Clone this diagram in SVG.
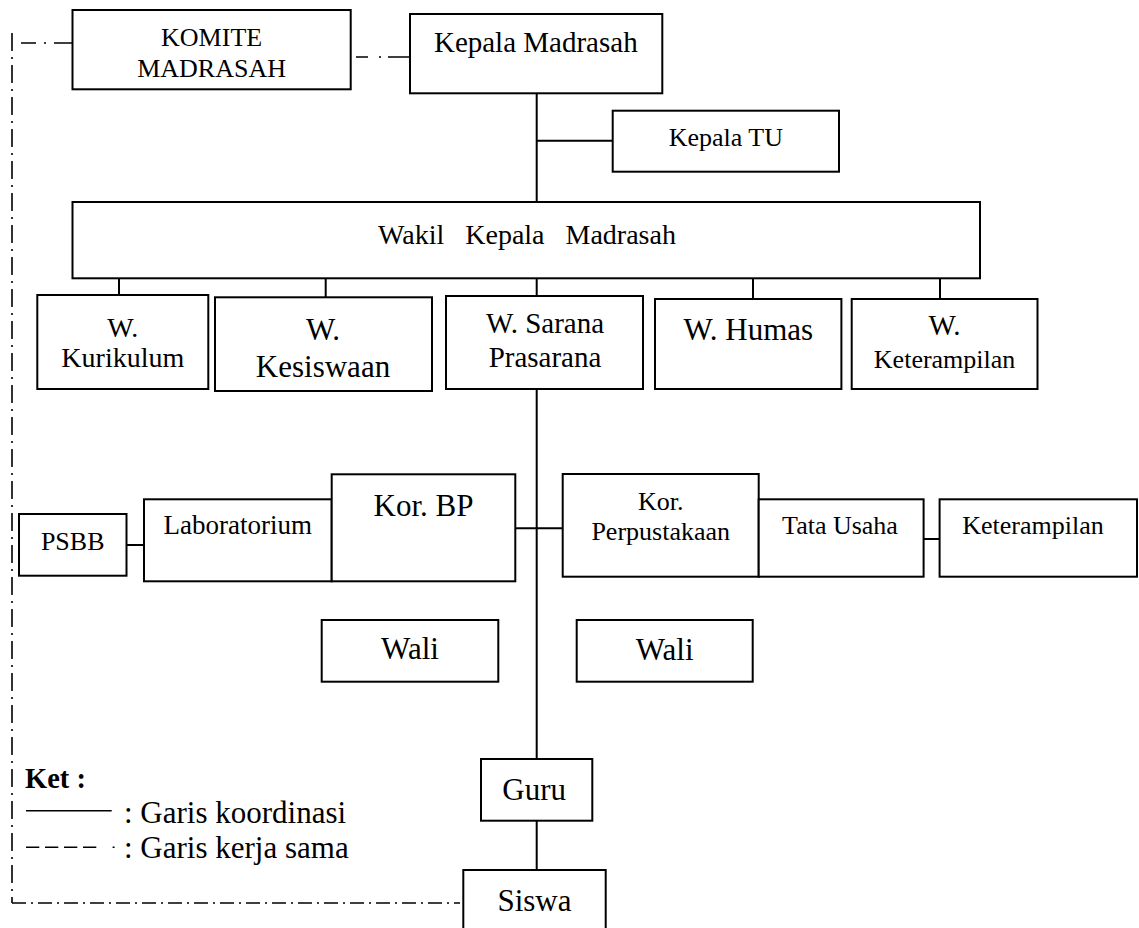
<svg xmlns="http://www.w3.org/2000/svg" width="1139" height="928" viewBox="0 0 1139 928">
<style>
.box{fill:#fff;stroke:#000;stroke-width:2}
.ln{stroke:#000;stroke-width:2;fill:none}
.dd{stroke:#000;stroke-width:1.6;fill:none}
text{font-family:"Liberation Serif","Times New Roman",serif;fill:#000;text-anchor:middle}
.s26{font-size:26px}.s27{font-size:27px}.s28{font-size:28px}.s29{font-size:29px}.s31{font-size:31px}
.ket{font-weight:bold;font-size:28.5px;text-anchor:start}
.leg{font-size:31px;text-anchor:start}
</style>
<rect width="1139" height="928" fill="#fff"/>
<g id="connectors">
  <path class="dd" d="M12,33 V903" stroke-dasharray="18 6 2 6"/>
  <path class="dd" d="M12,903 H460" stroke-dasharray="14 5 2 5"/>
  <path class="dd" d="M21,43 H72" stroke-dasharray="15 8 2 8 20"/>
  <path class="dd" d="M356,57 H410" stroke-dasharray="12 11 2 7 30"/>
  <path class="ln" d="M536.7,93 V202"/>
  <path class="ln" d="M536.7,140.7 H612.7"/>
  <path class="ln" d="M119,278 V295"/>
  <path class="ln" d="M325.7,278 V297"/>
  <path class="ln" d="M536.7,278 V296"/>
  <path class="ln" d="M753,278 V299"/>
  <path class="ln" d="M940,278 V299"/>
  <path class="ln" d="M536.7,389 V759"/>
  <path class="ln" d="M515.3,528.3 H562.7"/>
  <path class="ln" d="M126.5,545 H144"/>
  <path class="ln" d="M921,539 H939.6"/>
  <path class="ln" d="M536.7,820.7 V870"/>
</g>
<g id="komite">
  <rect class="box" x="72.5" y="10" width="278.2" height="79.3"/>
  <text class="s26" x="211.6" y="45.7">KOMITE</text>
  <text class="s26" x="211.6" y="76.7">MADRASAH</text>
</g>
<g id="kepala-madrasah">
  <rect class="box" x="410" y="14" width="252.3" height="79.3"/>
  <text class="s29" x="535.8" y="51.7">Kepala Madrasah</text>
</g>
<g id="kepala-tu">
  <rect class="box" x="612.7" y="110.7" width="226.3" height="61"/>
  <text class="s26" x="725.8" y="146">Kepala TU</text>
</g>
<g id="wakil">
  <rect class="box" x="72.5" y="202" width="907.5" height="76.3"/>
  <text class="s28" x="527" y="244" xml:space="preserve" style="white-space:pre">Wakil   Kepala   Madrasah</text>
</g>
<g id="w-kurikulum">
  <rect class="box" x="37.3" y="295" width="171" height="94"/>
  <text class="s28" x="122.8" y="336.7">W.</text>
  <text class="s28" x="122.8" y="367.3">Kurikulum</text>
</g>
<g id="w-kesiswaan">
  <rect class="box" x="215" y="297.3" width="217" height="93.7"/>
  <text class="s31" x="323" y="340">W.</text>
  <text class="s31" x="323" y="377.3">Kesiswaan</text>
</g>
<g id="w-sarana">
  <rect class="box" x="446" y="296" width="197" height="93"/>
  <text class="s29" x="545" y="333">W. Sarana</text>
  <text class="s29" x="545" y="367">Prasarana</text>
</g>
<g id="w-humas">
  <rect class="box" x="655" y="299" width="186.4" height="90"/>
  <text class="s31" x="748.3" y="340">W. Humas</text>
</g>
<g id="w-keterampilan">
  <rect class="box" x="851.7" y="299" width="185.8" height="90"/>
  <text class="s29" x="944.6" y="335">W.</text>
  <text class="s26" x="944.6" y="367.7">Keterampilan</text>
</g>
<g id="psbb">
  <rect class="box" x="19" y="514" width="107.5" height="61.7"/>
  <text class="s26" x="72.7" y="550">PSBB</text>
</g>
<g id="laboratorium">
  <rect class="box" x="144" y="499.3" width="187.7" height="82"/>
  <text class="s27" x="237.8" y="534">Laboratorium</text>
</g>
<g id="kor-bp">
  <rect class="box" x="331.7" y="474.3" width="183.6" height="107"/>
  <text class="s31" x="423.5" y="516">Kor. BP</text>
</g>
<g id="kor-perpustakaan">
  <rect class="box" x="562.7" y="474" width="196" height="102.7"/>
  <text class="s26" x="660.7" y="510">Kor.</text>
  <text class="s26" x="660.7" y="540">Perpustakaan</text>
</g>
<g id="tata-usaha">
  <rect class="box" x="758.7" y="499.3" width="164.9" height="77.4"/>
  <text class="s26" x="840" y="534">Tata Usaha</text>
</g>
<g id="keterampilan">
  <rect class="box" x="939.6" y="499.3" width="197.4" height="77.4"/>
  <text class="s26" x="1033" y="534">Keterampilan</text>
</g>
<g id="wali-1">
  <rect class="box" x="321.7" y="620" width="176.6" height="61.7"/>
  <text class="s31" x="410" y="659.3">Wali</text>
</g>
<g id="wali-2">
  <rect class="box" x="576.7" y="620" width="176" height="61.7"/>
  <text class="s31" x="664.7" y="660">Wali</text>
</g>
<g id="guru">
  <rect class="box" x="481" y="759" width="111.3" height="61.7"/>
  <text class="s31" x="534.2" y="800">Guru</text>
</g>
<g id="siswa">
  <rect class="box" x="463.3" y="870" width="142.4" height="70"/>
  <text class="s31" x="534.5" y="910.7">Siswa</text>
</g>
<g id="legend">
  <text class="ket" x="25" y="788.3">Ket :</text>
  <path d="M26,810.7 H111.7" stroke="#000" stroke-width="1.6"/>
  <text class="leg" x="124" y="823.3">: Garis koordinasi</text>
  <path d="M26,847.3 H115" stroke="#000" stroke-width="1.6" stroke-dasharray="13.3 5.7 13.3 5.7 13.3 5.7 13.3 16.3 2"/>
  <text class="leg" x="124" y="858.3">: Garis kerja sama</text>
</g>
</svg>
